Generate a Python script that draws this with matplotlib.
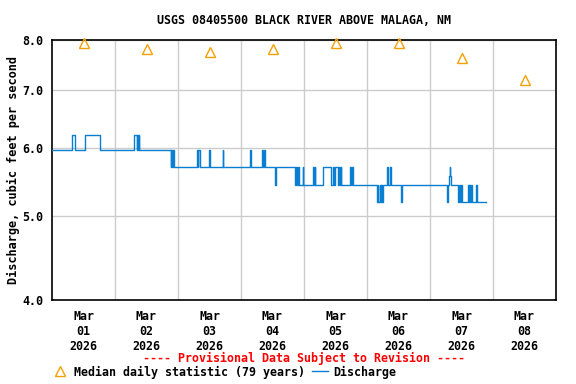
import matplotlib
matplotlib.use("Agg")
import matplotlib.pyplot as plt
from matplotlib.lines import Line2D
from matplotlib.ticker import FixedLocator, NullLocator, FuncFormatter

# ── data (hours since 2026-03-01 00:00, discharge in cfs) ──────────────────
A, B, C, F, D, E = 6.21, 5.96, 5.70, 5.57, 5.44, 5.20
step_hours = [
    0.0, 7.6, 8.8, 12.6, 18.3,
    31.2, 32.3, 32.5, 32.9, 33.0, 33.2,
    45.2, 45.5, 45.9, 46.1, 46.6,
    55.2, 55.6, 55.8, 56.4,
    59.8, 60.1,
    65.0, 65.3,
    75.4, 75.7,
    80.0, 80.4, 80.6, 81.1,
    85.1, 85.4,
    92.6, 93.0, 93.5, 93.8, 94.2,
    95.5, 95.8,
    99.4, 99.7, 100.0, 100.2,
    103.3, 106.2, 107.2, 107.6, 107.8, 109.1, 109.5, 109.7, 110.0, 110.2,
    113.6, 113.9, 114.4, 114.7,
    123.7, 124.0, 124.3, 124.8, 125.2, 125.5, 125.8, 126.2,
    127.5, 128.0, 128.8, 129.3,
    133.0, 133.4,
    150.4, 150.7, 151.2, 151.5, 151.7, 152.0,
    154.7, 155.1, 155.5, 155.9, 156.3,
    158.5, 158.8, 159.0, 159.4, 159.7, 160.0,
    161.5, 162.0,
    165.3,
]
step_values = [
    B, A, B, A, B,
    A, B, A, B, A, B,
    C, B, C, B, C,
    B, C, B, C,
    B, C,
    B, C,
    B, C,
    B, C, B, C,
    D, C,
    D, C, D, C, D,
    C, D,
    C, D, C, D,
    C, D, C, D, C, D, C, D, C, D,
    C, D, C, D,
    E, D, E, D, E, D, E, D,
    C, D, C, D,
    E, D,
    E, D, F, C, F, D,
    E, D, E, D, E,
    D, E, D, E, D, E,
    D, E,
    E,
]

median_hours = [12, 36, 60, 84, 108, 132, 156, 180]
median_values = [7.94, 7.81, 7.75, 7.82, 7.94, 7.94, 7.62, 7.20]

tick_labels = ["Mar\n01\n2026", "Mar\n02\n2026", "Mar\n03\n2026", "Mar\n04\n2026",
               "Mar\n05\n2026", "Mar\n06\n2026", "Mar\n07\n2026", "Mar\n08\n2026"]

FONT = "DejaVu Sans Mono"
BLUE = "#0a7fd2"
ORANGE = "#f5a000"

fig = plt.figure(figsize=(5.76, 3.84), dpi=100)
ax = fig.add_axes([52 / 576, 1 - 300 / 384, 504 / 576, 260 / 384])

ax.plot(step_hours, step_values, drawstyle="steps-post", color=BLUE, lw=1.0, zorder=3)
ax.plot(median_hours, median_values, ls="none", marker="^", ms=7,
        mfc="none", mec=ORANGE, mew=1.0, zorder=4, clip_on=False)

ax.set_yscale("log")
ax.set_ylim(4.0, 8.0)
ax.yaxis.set_major_locator(FixedLocator([4, 5, 6, 7, 8]))
ax.yaxis.set_minor_locator(NullLocator())
ax.yaxis.set_major_formatter(FuncFormatter(lambda v, p: f"{v:.1f}"))

ax.set_xlim(0, 192)
ax.xaxis.set_major_locator(FixedLocator(median_hours))
ax.xaxis.set_minor_locator(FixedLocator(range(24, 192, 24)))
ax.set_xticklabels(tick_labels)

ax.grid(True, which="minor", axis="x", color="#cccccc", lw=1.0)
ax.grid(True, which="major", axis="y", color="#cccccc", lw=1.0)
ax.tick_params(which="both", length=0)
ax.tick_params(axis="x", pad=7)
ax.tick_params(axis="y", pad=6)
for lab in ax.get_xticklabels() + ax.get_yticklabels():
    lab.set_fontfamily(FONT)
    lab.set_fontweight("bold")
    lab.set_fontsize(8.4)
for lab in ax.get_xticklabels():
    lab.set_linespacing(1.2)

for s in ax.spines.values():
    s.set_color("black")
    s.set_linewidth(1.2)

ax.set_ylabel("Discharge, cubic feet per second", family=FONT, weight="bold",
              fontsize=8.6, labelpad=2)

fig.text(304 / 576, 1 - 20 / 384, "USGS 08405500 BLACK RIVER ABOVE MALAGA, NM",
         ha="center", va="center", family=FONT, weight="bold", fontsize=8.4)
fig.text(304 / 576, 1 - 358 / 384, "---- Provisional Data Subject to Revision ----",
         ha="center", va="center", family=FONT, weight="bold", fontsize=8.4,
         color="red")

handles = [
    Line2D([], [], ls="none", marker="^", ms=7, mfc="none", mec=ORANGE, mew=1.0),
    Line2D([], [], color=BLUE, lw=1.0),
]
fig.legend(handles, ["Median daily statistic (79 years)", "Discharge"],
           loc="center", bbox_to_anchor=(224 / 576, 1 - 372 / 384), ncol=2,
           frameon=False, handlelength=1.4, handletextpad=0.5,
           columnspacing=0.6, borderpad=0,
           prop={"family": FONT, "weight": "bold", "size": 8.4})

fig.savefig("out.png", dpi=100)
